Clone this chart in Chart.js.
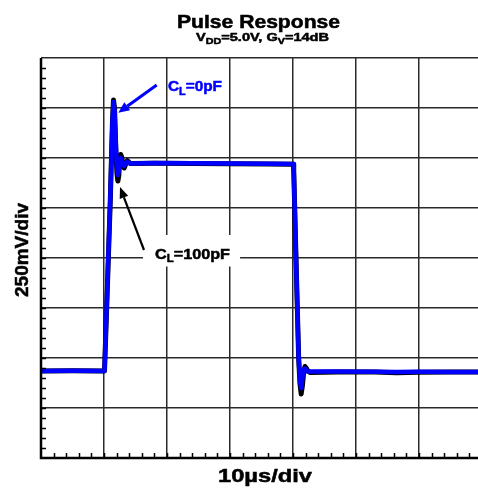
<!DOCTYPE html>
<html>
<head>
<meta charset="utf-8">
<script src="https://cdn.jsdelivr.net/npm/chart.js@4.4.1/dist/chart.umd.min.js"></script>
<style>
    html, body { margin: 0; padding: 0; background: #fff; }
    #wrap { width: 478px; height: 488px; }
</style>
</head>
<body>
<div id="wrap"><canvas id="pulse-chart" width="478" height="488"></canvas></div>
<script>
// Time axis in divisions (10us/div), voltage in divisions (250mV/div)
const timeDiv = [0, 0.5, 1.008, 1.06, 1.1, 1.135, 1.151, 1.167, 1.19, 1.205, 1.22, 1.235, 1.25, 1.265,
    1.28, 1.3, 1.32, 1.345, 1.37, 1.395, 1.42, 1.8, 2.4, 3.0, 3.6, 4.005, 4.012, 4.05, 4.09, 4.11,
    4.13, 4.15, 4.17, 4.19, 4.21, 4.235, 4.27, 4.7, 5.3, 5.65, 6.0, 6.5, 6.94];
const vOut0pF = [1.74, 1.745, 1.74, 3.7, 5.2, 6.75, 7.12, 6.95, 6.2, 5.8, 5.66, 5.74, 5.93, 6.0,
    5.96, 5.87, 5.84, 5.9, 5.93, 5.9, 5.89, 5.9, 5.895, 5.89, 5.885, 5.88, 5.75, 3.9, 2.0, 1.55,
    1.4, 1.6, 1.77, 1.79, 1.76, 1.73, 1.73, 1.73, 1.725, 1.72, 1.725, 1.72, 1.72];
const vOut100pF = [1.74, 1.745, 1.74, 3.65, 5.15, 6.75, 7.16, 7.0, 6.1, 5.7, 5.54, 5.65, 5.95, 6.07,
    6.02, 5.88, 5.8, 5.88, 5.95, 5.92, 5.89, 5.895, 5.89, 5.885, 5.88, 5.875, 5.75, 3.9, 2.0, 1.5,
    1.28, 1.45, 1.72, 1.83, 1.8, 1.74, 1.71, 1.72, 1.72, 1.705, 1.715, 1.72, 1.72];

const xDivMax = 6.937;
const yDivMax = 8;

const titleText = 'Pulse Response';
const xAxisLabel = '10µs/div';
const yAxisLabel = '250mV/div';

const FONT = "'Liberation Sans', Arial, Helvetica, sans-serif";
const BLUE = '#0000ff';

const toPoints = ys => timeDiv.map((t, i) => ({ x: t, y: ys[i] }));

/**
 * Draws bold text made of parts [text, size, dy], fitted to a width
 */
function drawRich(ctx, parts, x, y, width, color) {
    let total = 0;
    parts.forEach(p => {
        ctx.font = `bold ${p[1]}px ${FONT}`;
        total += ctx.measureText(p[0]).width;
    });
    const sx = width ? width / total : 1;
    ctx.save();
    ctx.translate(x, y);
    ctx.scale(sx, 1);
    ctx.fillStyle = color;
    ctx.strokeStyle = color;
    ctx.lineWidth = 0.5;
    ctx.textAlign = 'left';
    ctx.textBaseline = 'alphabetic';
    let cx = 0;
    parts.forEach(p => {
        ctx.font = `bold ${p[1]}px ${FONT}`;
        ctx.fillText(p[0], cx, p[2] || 0);
        ctx.strokeText(p[0], cx, p[2] || 0);
        cx += ctx.measureText(p[0]).width;
    });
    ctx.restore();
}

function drawArrow(ctx, x1, y1, x2, y2, color, width, headLen, headHalf) {
    const ang = Math.atan2(y2 - y1, x2 - x1);
    const bx = x2 - Math.cos(ang) * headLen;
    const by = y2 - Math.sin(ang) * headLen;
    ctx.save();
    ctx.strokeStyle = color;
    ctx.fillStyle = color;
    ctx.lineWidth = width;
    ctx.beginPath();
    ctx.moveTo(x1, y1);
    ctx.lineTo(bx, by);
    ctx.stroke();
    ctx.beginPath();
    ctx.moveTo(x2, y2);
    ctx.lineTo(bx + Math.sin(ang) * headHalf, by - Math.cos(ang) * headHalf);
    ctx.lineTo(bx - Math.sin(ang) * headHalf, by + Math.cos(ang) * headHalf);
    ctx.closePath();
    ctx.fill();
    ctx.restore();
}

// Scope-style frame: white label box, minor ticks, axis lines, annotations, titles
const scopeFrame = {
    id: 'scopeFrame',
    beforeDatasetsDraw(chart) {
        const { ctx, scales: { x, y } } = chart;
        // white box behind the 100pF label
        ctx.save();
        ctx.fillStyle = '#fff';
        const bx1 = x.getPixelForValue(1.62), bx2 = x.getPixelForValue(3.16);
        const by1 = y.getPixelForValue(4.46), by2 = y.getPixelForValue(3.83);
        ctx.fillRect(bx1, by1, bx2 - bx1, by2 - by1);
        ctx.restore();
    },
    afterDraw(chart) {
        const { ctx, chartArea: a, scales: { x, y } } = chart;
        ctx.save();
        ctx.strokeStyle = '#000';
        ctx.lineWidth = 1.5;
        ctx.beginPath();
        for (let v = 0.2; v < yDivMax; v += 0.2) {
            const py = Math.round(y.getPixelForValue(v)) + 0.5;
            ctx.moveTo(a.left, py);
            ctx.lineTo(a.left + 5, py);
        }
        for (let v = 0.2; v < xDivMax; v += 0.2) {
            const px = Math.round(x.getPixelForValue(v)) + 0.5;
            ctx.moveTo(px, a.bottom);
            ctx.lineTo(px, a.bottom - 5);
        }
        ctx.stroke();
        // axis lines
        ctx.lineWidth = 2.5;
        ctx.beginPath();
        ctx.moveTo(a.left, a.top);
        ctx.lineTo(a.left, a.bottom);
        ctx.lineTo(a.right, a.bottom);
        ctx.stroke();
        ctx.restore();

        // annotations
        drawArrow(ctx, x.getPixelForValue(1.837), y.getPixelForValue(7.46),
            x.getPixelForValue(1.227), y.getPixelForValue(6.906), BLUE, 3, 11, 5);
        drawArrow(ctx, x.getPixelForValue(1.635), y.getPixelForValue(4.16),
            x.getPixelForValue(1.254), y.getPixelForValue(5.42), '#000', 2.2, 11, 4.5);
        drawRich(ctx, [['C', 15], ['L', 10.5, 3.5], ['=0pF', 15]],
            x.getPixelForValue(2.016), y.getPixelForValue(7.34), 54, BLUE);
        drawRich(ctx, [['C', 15], ['L', 10.5, 3], ['=100pF', 15]],
            x.getPixelForValue(1.81), y.getPixelForValue(3.99), 75, '#000');

        // titles
        drawRich(ctx, [[titleText, 17.5]], 177, 27.5, 163, '#000');
        drawRich(ctx, [['V', 11.5], ['DD', 8.5, 3], ['=5.0V, G', 11.5], ['V', 8.5, 3], ['=14dB', 11.5]],
            196, 40.5, 133, '#000');
        drawRich(ctx, [[xAxisLabel, 18.5]], 218, 481.5, 94, '#000');
        ctx.save();
        ctx.translate(28, 297);
        ctx.rotate(-Math.PI / 2);
        drawRich(ctx, [[yAxisLabel, 18]], 0, 0, 94, '#000');
        ctx.restore();
    }
};

const onlyWholeTicks = scale => {
    scale.ticks = scale.ticks.filter(t => Math.abs(t.value - Math.round(t.value)) < 1e-6);
};

new Chart(document.getElementById('pulse-chart'), {
    type: 'scatter',
    data: {
        datasets: [
            {
                label: 'CL=0pF',
                data: toPoints(vOut0pF),
                showLine: true,
                borderColor: BLUE,
                borderWidth: 4.5,
                pointRadius: 0,
                tension: 0,
                borderJoinStyle: 'round',
                borderCapStyle: 'round'
            },
            {
                label: 'CL=100pF',
                data: toPoints(vOut100pF),
                showLine: true,
                borderColor: '#000',
                borderWidth: 5,
                pointRadius: 0,
                tension: 0,
                borderJoinStyle: 'round',
                borderCapStyle: 'round'
            }
        ]
    },
    options: {
        responsive: false,
        animation: false,
        events: [],
        layout: { padding: { left: 41, top: 58, right: 0, bottom: 30 } },
        plugins: {
            legend: { display: false },
            tooltip: { enabled: false },
            title: { display: false }
        },
        scales: {
            x: {
                type: 'linear',
                min: 0,
                max: xDivMax,
                afterBuildTicks: onlyWholeTicks,
                ticks: { display: false, stepSize: 1 },
                border: { display: false },
                grid: { color: '#2a2a2a', lineWidth: 1.5, drawTicks: false }
            },
            y: {
                type: 'linear',
                min: 0,
                max: yDivMax,
                afterBuildTicks: onlyWholeTicks,
                ticks: { display: false, stepSize: 1 },
                border: { display: false },
                grid: { color: '#2a2a2a', lineWidth: 1.5, drawTicks: false }
            }
        }
    },
    plugins: [scopeFrame]
});
</script>
</body>
</html>
